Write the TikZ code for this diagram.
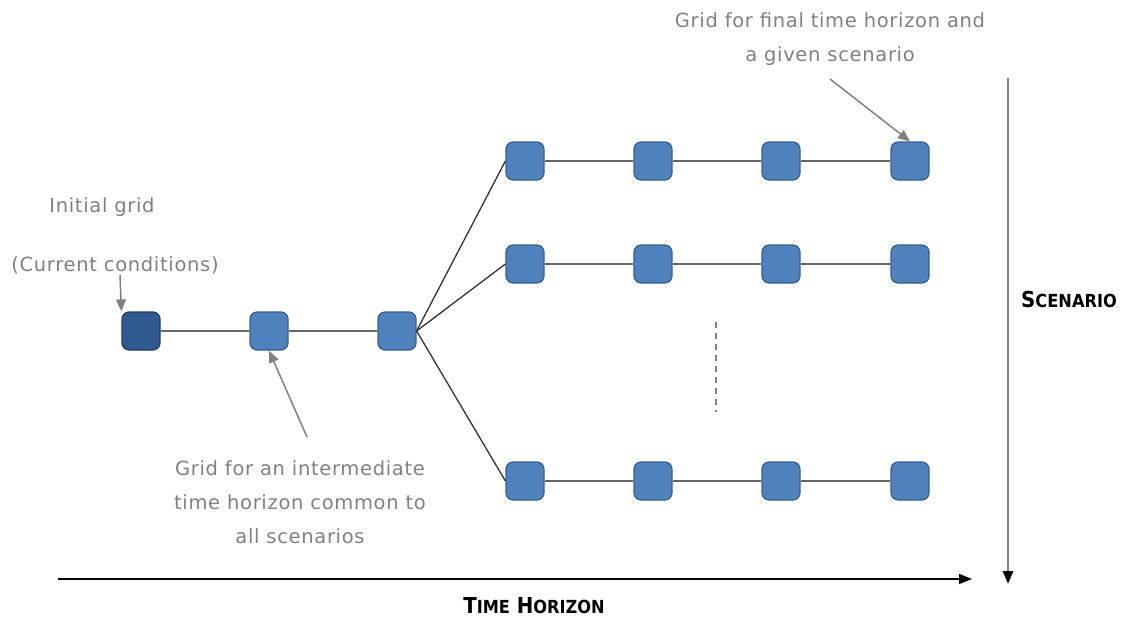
\documentclass[tikz,border=0pt]{standalone}
\usepackage{fontspec}
\setmainfont{DejaVu Sans}
\newfontfamily\axisfont{DejaVu Sans Condensed}
\usetikzlibrary{arrows.meta}
\definecolor{boxfill}{HTML}{4F81BD}
\definecolor{boxborder}{HTML}{385D8A}
\definecolor{darkfill}{HTML}{2F5A8F}
\definecolor{darkborder}{HTML}{1F3E66}
\definecolor{notegray}{HTML}{808080}
\definecolor{linkgray}{HTML}{666666}
\tikzset{
  gridbox/.style={draw=boxborder, fill=boxfill, rounded corners=7pt, minimum size=38pt, inner sep=0pt, line width=1.2pt},
  initbox/.style={gridbox, draw=darkborder, fill=darkfill},
  link/.style={draw=linkgray, line width=2.6pt},
  branch/.style={draw=black!80, line width=1.3pt},
  note/.style={text=notegray, font=\fontsize{19.5}{34}\selectfont\addfontfeature{LetterSpace=3.5}, align=center, inner sep=0pt},
  notearrow/.style={draw=notegray, line width=1.5pt, -{Triangle[length=12pt,width=10pt]}},
  axislabel/.style={font=\axisfont\bfseries\fontsize{22}{24}\selectfont, inner sep=0pt},
}
\newcommand{\axsmall}[1]{{\fontsize{18}{20}\selectfont #1}}
\begin{document}
\begin{tikzpicture}[x=1pt,y=-1pt]
\useasboundingbox (0,0) rectangle (1121,618);
% main chain
\node[initbox] (g0) at (141,331) {};
\node[gridbox] (g1) at (269,331) {};
\node[gridbox] (g2) at (397,331) {};
% scenario rows
\foreach \r/\y in {a/161,b/264,c/481}{
  \foreach \c/\x in {1/525,2/653,3/781,4/910}{
    \node[gridbox] (\r\c) at (\x,\y) {};
  }
  \draw[link] (\r1) -- (\r2) -- (\r3) -- (\r4);
  \draw[branch] (g2.east) -- (\r1.west);
}
\draw[link] (g0) -- (g1) -- (g2);
% dots
\coordinate (dt) at (716,322);
\coordinate (db) at (716,412);
\draw[draw=notegray, line width=2pt, dash pattern=on 6pt off 5pt] (dt) -- (db);
% annotations
\node[note] (ig) at (102,207) {Initial grid};
\node[note] (cc) at (115,265) {(Current conditions)};
\coordinate (ccs) at (120,275);
\draw[notearrow] (ccs) -- (g0.north west);
\node[note] (fin) at (830,39) {Grid for final time horizon and\\a given scenario};
\coordinate (fins) at (830,79);
\draw[notearrow] (fins) -- (a4.north);
\node[note] (mid) at (300,502) {Grid for an intermediate\\time horizon common to\\all scenarios};
\coordinate (mids) at (307,437);
\draw[notearrow] (mids) -- (g1.south);
% axes
\coordinate (ts) at (58,579);
\coordinate (te) at (972,579);
\draw[line width=1.6pt, -{Triangle[length=13pt,width=10pt]}] (ts) -- (te);
\node[axislabel] (tl) at (534,606) {T\axsmall{IME} H\axsmall{ORIZON}};
\coordinate (ss) at (1008,78);
\coordinate (se) at (1008,584);
\draw[draw=notegray, line width=2.6pt, -{Triangle[length=13pt,width=10pt,color=black]}] (ss) -- (se);
\node[axislabel] (sl) at (1069,299) {S\axsmall{CENARIO}};
\end{tikzpicture}
\end{document}
